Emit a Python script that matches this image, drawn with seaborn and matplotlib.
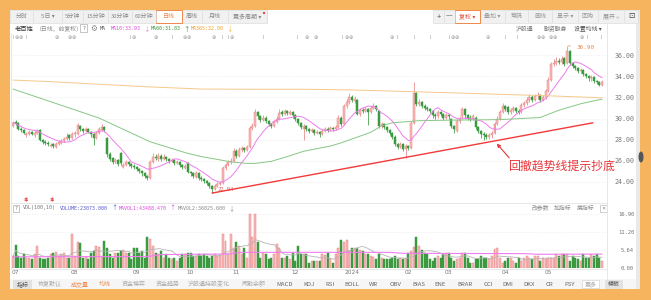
import numpy as np
import pandas as pd
import matplotlib
matplotlib.use("Agg")
import matplotlib.pyplot as plt
import seaborn as sns
from matplotlib.patches import Rectangle, Ellipse
from matplotlib.lines import Line2D

# ---------------- data ----------------
open_ = [
29.3, 29.7, 29.6, 29.0, 28.9, 28.4, 28.5, 28.7, 28.4, 28.6,
28.9, 28.0, 27.8, 27.7, 27.4, 27.6, 27.3, 27.6, 27.7, 27.9,
28.1, 28.4, 28.2, 28.5, 28.5, 29.3, 29.0, 28.8, 29.0, 28.7,
28.5, 28.2, 28.6, 28.9, 29.2, 28.2, 26.6, 26.3, 25.9, 26.1,
26.7, 25.4, 25.6, 25.9, 25.7, 25.5, 25.4, 25.2, 25.0, 24.8,
24.6, 24.4, 25.9, 26.4, 26.2, 26.5, 26.2, 26.4, 26.2, 26.0,
26.1, 25.8, 25.9, 25.6, 25.3, 25.8, 24.9, 24.8, 24.5, 24.8,
24.4, 24.3, 24.1, 23.9, 23.6, 23.3, 23.6, 23.8, 23.9, 25.3,
25.6, 25.9, 26.0, 26.9, 26.5, 27.0, 27.2, 27.0, 27.3, 29.1,
29.3, 30.6, 30.2, 29.9, 30.1, 29.8, 29.5, 29.3, 29.7, 30.0,
30.6, 30.4, 30.7, 30.4, 30.6, 30.3, 30.0, 29.6, 29.0, 29.3,
29.0, 28.8, 28.9, 28.6, 28.7, 28.5, 28.8, 29.0, 28.9, 29.1,
29.0, 29.2, 30.1, 29.5, 31.2, 31.6, 32.0, 31.7, 31.8, 30.4,
30.8, 30.7, 30.9, 30.6, 31.0, 31.2, 30.7, 29.3, 29.5, 29.2,
28.9, 28.6, 28.3, 27.6, 27.3, 27.6, 27.1, 27.4, 27.2, 29.6,
32.4, 31.4, 31.6, 31.2, 31.0, 30.9, 30.7, 30.3, 30.2, 30.6,
30.4, 30.1, 30.3, 30.0, 29.3, 28.8, 29.8, 30.2, 30.9, 30.3,
30.1, 30.0, 30.1, 29.2, 28.8, 28.5, 28.4, 28.3, 28.4, 28.6,
29.5, 30.0, 30.6, 31.2, 31.1, 30.6, 30.8, 31.0, 30.7, 30.6,
31.3, 31.5, 31.8, 32.0, 31.8, 32.1, 32.2, 31.8, 32.0, 32.6,
33.7, 35.2, 35.3, 35.5, 35.4, 35.7, 35.3, 36.4, 35.3, 35.0,
34.8, 34.5, 34.6, 34.2, 34.0, 33.8, 33.9, 33.6, 33.5, 33.2]

high = [
29.8, 29.9, 29.7, 29.2, 29.0, 28.7, 28.9, 28.8, 28.8, 29.0,
29.0, 28.1, 28.0, 27.9, 27.7, 27.7, 27.8, 28.0, 28.1, 28.3,
28.6, 28.5, 28.7, 28.8, 29.6, 29.4, 29.1, 29.2, 29.1, 28.8,
28.6, 28.8, 29.2, 29.5, 29.3, 28.3, 26.8, 26.4, 26.3, 26.2,
26.8, 25.8, 26.1, 26.0, 25.8, 25.7, 25.5, 25.3, 25.1, 24.9,
24.7, 26.1, 26.7, 26.6, 26.7, 26.6, 26.6, 26.5, 26.3, 26.3,
26.2, 26.1, 26.0, 25.7, 25.7, 25.9, 25.0, 24.9, 25.0, 24.9,
24.6, 24.4, 24.2, 24.0, 23.7, 23.8, 24.0, 24.1, 25.5, 25.8,
26.1, 26.3, 27.2, 27.1, 27.3, 27.4, 27.3, 27.5, 29.3, 29.6,
30.9, 30.7, 30.3, 30.3, 30.2, 29.9, 29.6, 29.9, 30.2, 30.9,
30.8, 30.9, 30.8, 30.8, 30.7, 30.4, 30.1, 29.7, 29.5, 29.4,
29.1, 29.1, 29.0, 28.9, 28.8, 29.0, 29.2, 29.2, 29.3, 29.2,
29.4, 30.3, 30.2, 31.4, 31.9, 32.4, 32.2, 32.1, 31.9, 31.0,
31.0, 31.1, 31.0, 31.2, 31.5, 31.3, 30.8, 29.7, 29.6, 29.3,
29.0, 28.7, 28.4, 27.7, 27.8, 27.7, 27.6, 27.5, 29.8, 33.5,
32.5, 31.9, 31.7, 31.4, 31.2, 31.0, 30.8, 30.5, 30.8, 30.7,
30.5, 30.5, 30.4, 30.1, 29.4, 30.0, 30.2, 31.1, 31.0, 30.4,
30.3, 30.4, 30.2, 29.3, 28.9, 28.7, 28.6, 28.6, 28.8, 29.7,
30.2, 30.8, 31.5, 31.3, 31.2, 31.0, 31.2, 31.1, 30.9, 31.5,
31.7, 32.0, 32.3, 32.2, 32.3, 32.5, 32.3, 32.2, 32.8, 33.9,
35.4, 35.6, 35.8, 35.7, 35.9, 35.8, 36.9, 36.5, 35.4, 35.1,
34.9, 34.8, 34.7, 34.3, 34.1, 34.1, 34.0, 33.7, 33.6, 33.7]

low = [
29.2, 29.4, 28.9, 28.7, 28.5, 28.3, 28.4, 28.4, 28.3, 28.5,
27.9, 27.6, 27.5, 27.4, 27.3, 27.2, 27.2, 27.5, 27.6, 27.8,
28.0, 28.0, 28.1, 28.3, 28.4, 28.8, 28.6, 28.7, 28.6, 28.3,
27.5, 28.1, 28.5, 28.8, 28.7, 26.4, 26.0, 25.7, 25.8, 25.5,
25.6, 25.3, 25.5, 25.5, 25.3, 25.2, 25.0, 24.8, 24.6, 24.4,
24.2, 24.3, 25.8, 26.1, 26.0, 26.0, 26.1, 26.0, 25.8, 25.9,
25.6, 25.7, 25.4, 25.2, 25.2, 24.8, 24.6, 24.4, 24.4, 24.2,
24.1, 23.9, 23.7, 23.4, 22.94, 23.2, 23.5, 23.7, 23.8, 25.1,
25.5, 25.7, 25.9, 26.3, 26.4, 26.8, 26.8, 26.9, 27.2, 28.9,
29.2, 30.0, 29.7, 29.8, 29.6, 29.3, 29.1, 29.2, 29.6, 29.9,
30.2, 30.3, 30.3, 30.3, 30.1, 29.8, 29.4, 29.0, 28.0, 28.8,
28.6, 28.7, 28.4, 28.5, 28.3, 28.4, 28.7, 28.7, 28.8, 28.8,
28.9, 29.1, 29.3, 29.4, 31.0, 31.4, 31.6, 31.5, 30.3, 30.2,
30.5, 30.6, 29.4, 30.5, 30.9, 30.7, 29.1, 29.1, 29.0, 28.7,
28.4, 28.1, 27.4, 27.1, 27.2, 26.9, 26.3, 27.0, 27.1, 29.5,
31.2, 31.2, 31.0, 30.8, 30.7, 30.5, 30.1, 30.0, 30.1, 30.2,
29.9, 30.0, 30.0, 29.1, 28.6, 28.7, 29.6, 30.0, 30.1, 29.9,
29.8, 29.9, 29.0, 28.6, 28.2, 28.0, 28.1, 28.1, 28.2, 28.5,
29.4, 29.9, 30.5, 30.7, 30.4, 30.4, 30.6, 30.5, 30.4, 30.5,
31.1, 31.3, 31.6, 31.6, 31.7, 31.9, 31.6, 31.7, 31.9, 32.5,
33.6, 35.0, 35.1, 35.2, 35.2, 35.0, 35.2, 35.1, 34.8, 34.6,
34.3, 34.3, 34.0, 33.8, 33.6, 33.6, 33.4, 33.3, 33.1, 33.1]

close = [
29.6, 29.5, 29.0, 28.9, 28.6, 28.5, 28.7, 28.5, 28.6, 28.8,
28.0, 27.8, 27.7, 27.6, 27.5, 27.4, 27.6, 27.8, 27.9, 28.1,
28.3, 28.2, 28.5, 28.6, 29.4, 29.0, 28.8, 29.0, 28.7, 28.5,
28.2, 28.6, 29.0, 29.2, 28.9, 26.6, 26.2, 25.9, 26.1, 25.7,
25.8, 25.6, 25.9, 25.7, 25.5, 25.4, 25.2, 25.0, 24.8, 24.6,
24.4, 25.9, 26.4, 26.3, 26.5, 26.2, 26.4, 26.2, 26.0, 26.1,
25.8, 25.9, 25.6, 25.4, 25.5, 24.9, 24.8, 24.6, 24.8, 24.4,
24.3, 24.1, 23.9, 23.6, 23.3, 23.6, 23.8, 23.9, 25.3, 25.6,
25.9, 26.0, 26.9, 26.5, 27.0, 27.2, 27.0, 27.3, 29.1, 29.3,
30.6, 30.2, 29.9, 30.1, 29.8, 29.5, 29.3, 29.7, 30.0, 30.5,
30.4, 30.7, 30.5, 30.6, 30.3, 30.0, 29.6, 29.2, 29.3, 29.0,
28.8, 28.9, 28.6, 28.7, 28.5, 28.8, 29.0, 28.9, 29.1, 29.0,
29.2, 30.1, 29.5, 31.2, 31.6, 32.0, 31.8, 31.9, 30.4, 30.8,
30.7, 30.9, 30.6, 31.0, 31.2, 30.9, 29.3, 29.5, 29.2, 28.9,
28.6, 28.3, 27.6, 27.3, 27.6, 27.1, 27.4, 27.2, 29.6, 32.4,
31.4, 31.6, 31.2, 31.0, 30.9, 30.7, 30.3, 30.2, 30.6, 30.4,
30.1, 30.3, 30.2, 29.3, 29.0, 29.8, 30.0, 30.9, 30.3, 30.1,
30.0, 30.2, 29.2, 28.8, 28.5, 28.4, 28.3, 28.4, 28.6, 29.5,
30.0, 30.6, 31.2, 30.9, 30.6, 30.8, 31.0, 30.7, 30.6, 31.3,
31.5, 31.8, 32.0, 31.8, 32.1, 32.2, 31.8, 32.0, 32.6, 33.7,
35.2, 35.3, 35.5, 35.4, 35.6, 35.2, 36.4, 35.3, 35.0, 34.8,
34.5, 34.6, 34.2, 34.0, 33.8, 33.9, 33.6, 33.5, 33.2, 33.5]

volume = [  # 万手
3.7, 7.3, 3.7, 3.2, 4.3, 3.2, 3.2, 2.7, 4.3, 7.0,
3.2, 2.7, 2.7, 3.2, 4.3, 4.8, 5.1, 3.7, 4.3, 4.8,
3.2, 3.2, 10.7, 3.7, 8.2, 7.8, 3.2, 3.4, 2.7, 4.8,
5.4, 7.0, 6.6, 3.7, 8.6, 6.4, 4.3, 3.2, 4.8, 4.8,
5.4, 5.6, 4.8, 4.8, 2.7, 6.2, 6.2, 4.8, 5.4, 3.2,
9.6, 9.1, 7.0, 4.8, 4.3, 5.4, 3.2, 4.3, 3.2, 2.7,
3.2, 2.1, 3.2, 4.5, 4.5, 4.8, 4.8, 3.7, 3.7, 4.5,
3.7, 4.3, 3.7, 3.2, 3.7, 4.3, 3.7, 4.1, 10.7, 8.3,
4.3, 10.7, 6.2, 8.0, 7.0, 4.3, 6.4, 3.2, 16.9, 9.6,
16.9, 8.0, 3.2, 4.8, 4.3, 2.7, 3.2, 4.3, 7.5, 6.4,
3.2, 3.2, 3.7, 2.7, 4.8, 2.1, 7.0, 4.3, 4.3, 4.3,
1.6, 2.1, 2.1, 2.1, 2.1, 4.3, 4.1, 4.8, 2.7, 1.6,
4.3, 6.4, 8.8, 8.0, 8.8, 5.4, 6.2, 6.4, 6.2, 5.6,
5.4, 4.3, 4.3, 3.7, 3.4, 2.7, 4.5, 3.2, 2.7, 2.7,
2.7, 3.2, 3.7, 2.7, 3.2, 2.7, 3.2, 4.8, 5.4, 6.6,
9.6, 7.0, 5.6, 4.8, 4.3, 2.7, 2.1, 3.2, 3.7, 3.2,
4.3, 4.8, 4.8, 3.2, 2.1, 2.7, 3.2, 4.8, 4.8, 3.2,
1.6, 1.6, 2.7, 2.7, 3.7, 3.2, 3.2, 2.7, 3.7, 5.9,
6.4, 3.2, 1.6, 2.1, 3.2, 3.2, 2.1, 1.6, 3.2, 2.1,
3.2, 3.7, 3.2, 2.7, 3.7, 3.7, 2.1, 3.2, 2.7, 3.2,
3.2, 3.2, 4.5, 3.7, 4.3, 4.5, 4.3, 2.1, 3.7, 3.2,
2.7, 2.1, 4.3, 3.2, 3.2, 4.3, 3.7, 4.3, 3.2, 2.3]

# long moving averages (history before the window is not visible) read as samples
ma60_idx = [0, 14, 32, 51, 65, 70, 81, 87, 90, 96, 102, 108, 118, 122, 133, 137, 141, 151, 162, 181, 196, 203, 211, 219]
ma60_val = [32.8, 31.6, 30.05, 27.8, 26.7, 26.4, 25.9, 25.75, 25.75, 25.95, 26.4, 26.9, 27.4, 27.7, 28.7, 29.3, 29.6, 29.8, 29.85, 29.9, 30.1, 30.8, 31.4, 31.85]
ma365_idx = [0, 14, 32, 51, 70, 88, 107, 125, 144, 162, 181, 200, 219]
ma365_val = [33.65, 33.5, 33.25, 33.0, 32.8, 32.78, 32.78, 32.72, 32.58, 32.45, 32.3, 32.15, 31.97]
mavol1_idx = [0, 50, 55, 80, 85, 140, 145, 190, 195, 219]
mavol1_val = [3.5, 3.6, 4.2, 4.4, 4.9, 4.9, 4.6, 4.5, 4.3, 4.35]

trend_idx = [74, 215.6]
trend_val = [22.94, 29.6]

month_labels = ["07", "08", "09", "10", "11", "12", "2024", "02", "03", "04", "05"]
month_idx = [1, 23, 46, 66, 83, 105, 126, 147, 162, 183, 199]

price_ticks = [24, 26, 28, 30, 32, 34, 36]
vol_ticks = [0.0, 5.64, 11.20, 16.90]

# ---------------- styling ----------------
sns.set_theme(style="white")
plt.rcParams["font.family"] = ["Noto Sans CJK SC", "DejaVu Sans"]
plt.rcParams["axes.unicode_minus"] = False

W, H = 651, 300
fig = plt.figure(figsize=(W / 100, H / 100), dpi=100)
fig.patch.set_facecolor("#F6B45F")


def fx(x):
    return x / W


def fy(y):
    return 1 - y / H


def box(x0, y0, x1, y1, fc, ec="none", lw=0.6, z=-1):
    fig.add_artist(Rectangle((fx(x0), fy(y1)), (x1 - x0) / W, (y1 - y0) / H,
                             transform=fig.transFigure, facecolor=fc,
                             edgecolor=ec, linewidth=lw, zorder=z))


def line(xs, ys, color="#e3e3e3", lw=0.6, z=1):
    fig.add_artist(Line2D([fx(v) for v in xs], [fy(v) for v in ys],
                          transform=fig.transFigure, color=color, lw=lw, zorder=z))


def txt(x, y, s, size=4.3, color="#666", ha="left", va="center", family=None, **kw):
    if family is not None:
        kw["family"] = family
    fig.text(fx(x), fy(y), s, fontsize=size, color=color, ha=ha, va=va, zorder=6, **kw)


MONO = ["DejaVu Sans Mono", "Noto Sans CJK SC"]
RED_FILL, RED_EDGE, GRN = "#f6b8b8", "#ea8585", "#3b9a40"
ORANGE = "#f0884a"

# panel
box(10, 10, 636, 289, "white", z=-2)
box(636, 10, 640, 289, "#e9e9e9", z=-2)
fig.add_artist(Ellipse((fx(641), fy(157)), 5 / W, 11 / H, transform=fig.transFigure,
                       facecolor="#555", edgecolor="none", zorder=2))

# ---------------- top toolbar ----------------
box(10, 10, 267, 23, "#f1f1f1", ec="#dedede", lw=0.5)
tabs = [(10, 33, "分时"), (33, 62, "5日 ▾"), (62, 83, "5分钟"), (83, 108, "15分钟"),
        (108, 132, "30分钟"), (132, 156, "60分钟"), (156, 182, "日线"), (182, 202, "周线"),
        (202, 228, "月线"), (228, 267, "更多周期 ▾")]
for a, b, s in tabs:
    if s == "日线":
        box(a, 10, b, 23, "white", ec=ORANGE, lw=0.7, z=0)
        txt((a + b) / 2, 16.5, s, color=ORANGE, ha="center")
    else:
        line([b, b], [11, 22], color="#dcdcdc", lw=0.5)
        txt((a + b) / 2, 16.5, s, color="#888", ha="center")
fig.add_artist(Ellipse((fx(264), fy(13)), 2.2 / W, 2.2 / H, transform=fig.transFigure,
                       facecolor="#e33", edgecolor="none", zorder=6))

box(433, 10, 638, 23, "#f1f1f1", ec="#dedede", lw=0.5)
rtabs = [(433, 444, "+"), (444, 455, "—"), (455, 480, "复权 ▾"), (480, 505, "叠加 ▾"),
         (505, 528, "筹码"), (528, 552, "画线"), (552, 578, "显示 ▾"), (578, 598, "回购"),
         (598, 624, "展开 «"), (624, 638, "⊡")]
for a, b, s in rtabs:
    if s.startswith("复权"):
        box(a, 10, b, 23, "white", ec=ORANGE, lw=0.7, z=0)
        txt((a + b) / 2, 16.5, s, color="#e0533a", ha="center")
    else:
        line([b, b], [11, 22], color="#dcdcdc", lw=0.5)
        c = "#444" if s in ("+", "—", "⊡") else "#999"
        sz = 5.5 if s in ("+", "—", "⊡") else 4.3
        txt((a + b) / 2, 16.5, s, color=c, ha="center", size=sz)

# second row
txt(15, 28.5, "老百姓", color="#333", size=4.5)
txt(36, 28.5, "（日线，前复权）", color="#888", size=4.2)
box(80, 24.5, 87, 32, "white", ec="#999", lw=0.4, z=0)
txt(83.5, 28.3, "?", color="#777", ha="center", size=3.8, family=MONO)
txt(93.5, 28.3, "⚙", color="#888", ha="center", size=5.5, family=["DejaVu Sans"])
txt(100, 28.5, "MA", color="#555", size=3.6, family=MONO)
txt(111, 28.5, "MA10:33.93", color="#e048e0", size=3.6, family=MONO)
txt(146, 28.5, "↓", color="#e87ad8", ha="center", size=4.6)
txt(151, 28.5, "MA60:31.83", color="#3a9a3a", size=3.6, family=MONO)
txt(186, 28.5, "↑", color="#3a9a3a", ha="center", size=4.6)
txt(191, 28.5, "MA365:32.00", color="#f0a030", size=3.6, family=MONO)
txt(229, 28.5, "↓", color="#f0b040", ha="center", size=4.6)
txt(525, 28.5, "沪股通", color="#777", ha="center", size=4.2)
txt(555, 28.5, "融资融券", color="#777", ha="center", size=4.2)
txt(588, 28.5, "设置均线 ▾", color="#555", ha="center", size=4.2)

# ---------------- price panel ----------------
df = pd.DataFrame({"i": np.arange(len(close)), "open": open_, "high": high,
                   "low": low, "close": close, "vol": volume})
df["ma10"] = df["close"].rolling(10, min_periods=1).mean()
df["mavol2"] = df["vol"].rolling(10, min_periods=1).mean()
up = (df["close"] >= df["open"]).to_numpy()
edge = np.where(up, RED_EDGE, GRN)
fill = np.where(up, RED_FILL, GRN)

ax = fig.add_axes([fx(12), fy(203), (606 - 12) / W, (203 - 33) / H])
ax.set_facecolor("none")
ax.vlines(df["i"], df["low"], df["high"], colors=edge, linewidth=0.55, zorder=2)
body_lo = np.minimum(df["open"], df["close"])
body_h = np.maximum(np.abs(df["close"] - df["open"]), 0.05)
ax.bar(df["i"], body_h, bottom=body_lo, width=0.74, color=fill,
       edgecolor=edge, linewidth=0.35, zorder=3)

sns.lineplot(data=df, x="i", y="ma10", ax=ax, color="#ee7cee", linewidth=0.7,
             legend=False, zorder=4)
sns.lineplot(x=ma60_idx, y=ma60_val, ax=ax, color="#86c786", linewidth=0.7,
             legend=False, zorder=4, estimator=None)
sns.lineplot(x=ma365_idx, y=ma365_val, ax=ax, color="#f6c98a", linewidth=0.7,
             legend=False, zorder=4, estimator=None)
sns.lineplot(x=trend_idx, y=trend_val, ax=ax, color="#f23a3a", linewidth=1.0,
             legend=False, zorder=5, estimator=None)

ax.set_xlim(-0.37, 220.45)
ax.set_ylim(22.0, 38.11)
ax.set_xticks([])
ax.set_yticks(price_ticks)
ax.set_yticklabels([f"{v:.2f}" for v in price_ticks], fontfamily="DejaVu Sans Mono",
                   ha="right")
ax.yaxis.tick_right()
ax.tick_params(axis="y", length=0, pad=20.2, labelsize=4.8, labelcolor="#777")
ax.grid(True, axis="y", color="#ececec", linestyle=(0, (2, 2)), linewidth=0.5)
ax.set_axisbelow(True)
ax.set_xlabel("")
ax.set_ylabel("")
for s in ax.spines.values():
    s.set_visible(False)

# high / low labels
i_hi = int(np.argmax(high))
i_lo = int(np.argmin(low))
ax.annotate(f"{max(high):.2f}", xy=(i_hi + 0.3, max(high)), xytext=(i_hi + 3.5, max(high) - 0.2),
            fontsize=4.3, color=ORANGE, va="center", family="DejaVu Sans Mono",
            arrowprops=dict(arrowstyle="-", color=ORANGE, lw=0.5))
ax.annotate(f"{min(low):.2f}", xy=(i_lo + 0.3, min(low)), xytext=(i_lo + 2.0, min(low) + 0.3),
            fontsize=4.0, color="#e86060", va="center", family="DejaVu Sans Mono",
            arrowprops=dict(arrowstyle="-", color="#e86060", lw=0.5))

# event markers row
markers = [(13, "I"), (17, "⊕"), (21, "⊕"), (26, "I"), (57, "⊕"), (70, "⊕"), (74, "⊕"),
           (130, "I"), (134, "⊕"), (156, "⊕"), (172, "I"), (185, "⊕"), (189, "⊕"),
           (214, "⊕"), (222, "I"), (228, "I"), (232, "⊕"), (263, "I"), (297, "I"),
           (307, "⊕"), (316, "⊕"), (342, "I"), (347, "⊕"), (351, "⊕"), (392, "⊕"),
           (397, "I"), (414, "I"), (430, "I"), (449, "I"), (453, "⊕"), (457, "⊕"),
           (488, "⊕"), (505, "I"), (517, "I"), (539, "⊕"), (543, "⊕"), (551, "⊕"),
           (555, "⊕"), (582, "⊕"), (587, "I"), (601, "I")]
for mx, g in markers:
    txt(mx, 37.5, g, color="#9a9a9a", ha="center", size=3.6, family=["DejaVu Sans"])
txt(26, 199, "$", color="#e53030", ha="center", size=4.5, family=["DejaVu Sans"], weight="bold")
txt(52, 199, "$", color="#e53030", ha="center", size=4.5, family=["DejaVu Sans"], weight="bold")

# annotation text + arrow
txt(561, 166, "回撤趋势线提示抄底", color="#e8353a", ha="center", size=8.6)
fig.add_artist(matplotlib.patches.FancyArrowPatch(
    (fx(511), fy(160)), (fx(495), fy(141.5)), transform=fig.transFigure,
    arrowstyle="-|>", mutation_scale=5, color="#e8353a", lw=0.8, zorder=6))

# ---------------- volume panel ----------------
box(13, 204.5, 19, 211.5, "white", ec="#999", lw=0.4, z=0)
txt(16, 208, "?", color="#777", ha="center", size=3.6, family=MONO)
txt(23, 208, "VOL(100,10)", color="#777", size=3.6, family=MONO)
txt(60, 208, "VOLUME:23073.000", color="#5a5ad0", size=3.6, family=MONO)
txt(114, 208, "↑", color="#5a5ad0", ha="center", size=4.4)
txt(119, 208, "MAVOL1:43488.470", color="#e04ce0", size=3.6, family=MONO)
txt(172, 208, "↑", color="#e04ce0", ha="center", size=4.4)
txt(178, 208, "MAVOL2:36025.600", color="#8a8a8a", size=3.6, family=MONO)
txt(231, 208, "↓", color="#8a8a8a", ha="center", size=4.4)
txt(540, 208, "改参数", color="#888", ha="center", size=4.2)
txt(562.5, 208, "加指标", color="#888", ha="center", size=4.2)
txt(586, 208, "换指标", color="#888", ha="center", size=4.2)
box(600, 204.5, 607, 211.5, "white", ec="#aaa", lw=0.4, z=0)
txt(603.5, 208, "✕", color="#888", ha="center", size=3.6, family=["DejaVu Sans"])

axv = fig.add_axes([fx(12), fy(268), (606 - 12) / W, (268 - 211) / H])
axv.set_facecolor("none")
axv.bar(df["i"], df["vol"], width=0.74, color=fill, edgecolor=edge, linewidth=0.35, zorder=3)
sns.lineplot(data=df, x="i", y="mavol2", ax=axv, color="#b5b5b5", linewidth=0.6,
             legend=False, zorder=4)
sns.lineplot(x=mavol1_idx, y=mavol1_val, ax=axv, color="#f07cf0", linewidth=0.8,
             legend=False, zorder=4, estimator=None)
axv.set_xlim(-0.37, 220.45)
axv.set_ylim(0, 17.85)
axv.set_yticks(vol_ticks)
axv.set_yticklabels([f"{v:.2f}" for v in vol_ticks], fontfamily="DejaVu Sans Mono", ha="right")
axv.yaxis.tick_right()
axv.tick_params(axis="y", length=0, pad=20.2, labelsize=4.0, labelcolor="#777")
axv.set_xticks(month_idx)
axv.set_xticklabels(month_labels, fontfamily="DejaVu Sans")
axv.tick_params(axis="x", length=0, pad=1.6, labelsize=4.2, labelcolor="#777")
axv.grid(True, axis="y", color="#ececec", linestyle=(0, (2, 2)), linewidth=0.5)
axv.set_axisbelow(True)
axv.set_xlabel("")
axv.set_ylabel("")
for s in axv.spines.values():
    s.set_visible(False)

# frame lines
line([11, 11], [33, 269])
line([606.5, 606.5], [23, 279])
line([11, 607], [203, 203])
line([11, 607], [268.5, 268.5])

# ---------------- bottom tab bar ----------------
box(10, 279, 636, 289, "#f6f6f6", z=-1)
box(13, 279.5, 32, 288.5, "#e2e2e2", z=0)
box(605, 279.5, 623, 288.5, "#e2e2e2", z=0)
box(582, 280, 599, 288, "white", ec="#ccc", lw=0.4, z=0)
btabs = [(22.5, "指标", "#555"), (49.5, "恢复默认", "#aaa"), (80, "成交量", ORANGE),
         (105, "均线", ORANGE), (133.5, "资金博弈", "#aaa"), (168, "资金趋势", "#aaa"),
         (208.5, "沪股通持股变化", "#aaa"), (253.5, "两融余额", "#aaa"), (284.5, "MACD", "#666"),
         (309, "KDJ", "#666"), (330, "RSI", "#666"), (351.5, "BOLL", "#666"),
         (373.5, "WR", "#666"), (395.5, "OBV", "#666"), (418.5, "BIAS", "#666"),
         (440, "ENE", "#666"), (465, "BRAR", "#666"), (488, "CCI", "#666"),
         (508, "DMI", "#666"), (529.5, "DKX", "#666"), (549, "CR", "#666"),
         (570, "PSY", "#666"), (590.5, "更多", "#aaa"), (614, "模板", "#555")]
for bx, s, c in btabs:
    txt(bx, 284.2, s, color=c, ha="center", size=4.3)

fig.savefig("out.png", dpi=100, facecolor=fig.get_facecolor())
